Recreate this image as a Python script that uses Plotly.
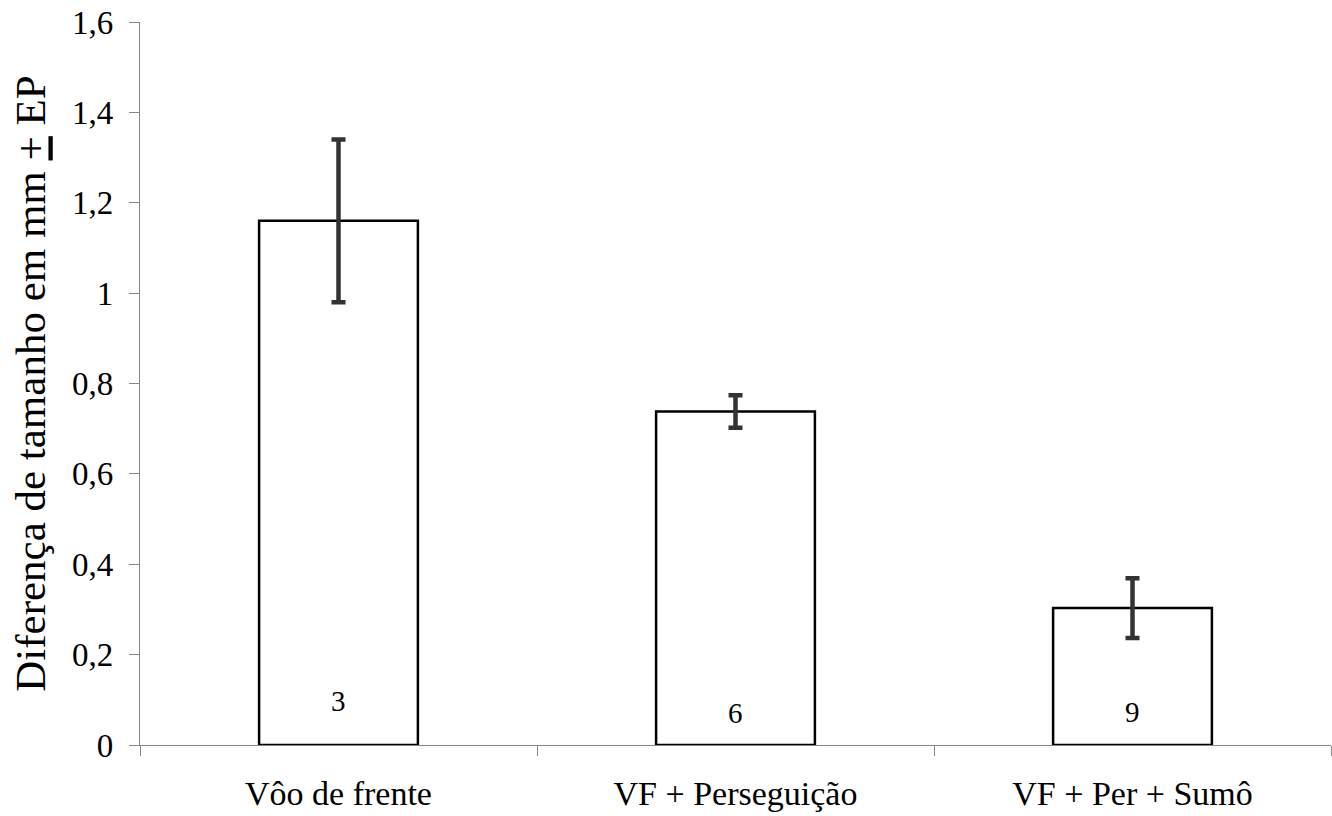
import plotly.graph_objects as go

categories = ["Vôo de frente", "VF + Perseguição", "VF + Per + Sumô"]
means = [1.16, 0.738, 0.303]
err_plus = [0.18, 0.036, 0.066]
err_minus = [0.18, 0.036, 0.066]
n_labels = ["3", "6", "9"]

FONT = "Liberation Serif"
AXC = "#868686"

fig = go.Figure()
fig.add_trace(go.Bar(
    x=categories, y=means,
    marker=dict(color="white", line=dict(color="black", width=2.5)),
    width=0.4,
    error_y=dict(type="data", symmetric=False, array=err_plus, arrayminus=err_minus,
                 color="#333333", thickness=4.5, width=7),
    showlegend=False,
))

label_y = [0.097, 0.071, 0.073]
for c, t, yy in zip(categories, n_labels, label_y):
    fig.add_annotation(x=c, y=yy, text=t, showarrow=False,
                       font=dict(family=FONT, size=29, color="black"))

fig.update_layout(
    width=1332, height=816,
    margin=dict(l=140, r=1, t=22, b=71),
    plot_bgcolor="white", paper_bgcolor="white",
    separators=",.",
    font=dict(family=FONT, color="black"),
    xaxis=dict(
        showline=True, linecolor=AXC, linewidth=1.3,
        ticks="outside", tickson="boundaries", ticklen=10, tickcolor=AXC, tickwidth=1.3,
        tickfont=dict(family=FONT, size=34, color="black"),
        ticklabelstandoff=18,
        showgrid=False, zeroline=False,
    ),
    yaxis=dict(
        range=[0, 1.6], dtick=0.2, tick0=0,
        showline=True, linecolor=AXC, linewidth=1.3,
        ticks="outside", ticklen=10, tickcolor=AXC, tickwidth=1.3,
        tickfont=dict(family=FONT, size=33, color="black"),
        ticklabelstandoff=9,
        showgrid=False, zeroline=False,
        title=dict(text="Diferença de tamanho em mm <u>+</u> EP",
                   font=dict(family=FONT, size=43, color="black"), standoff=12),
    ),
)

fig.write_html("out.html")
